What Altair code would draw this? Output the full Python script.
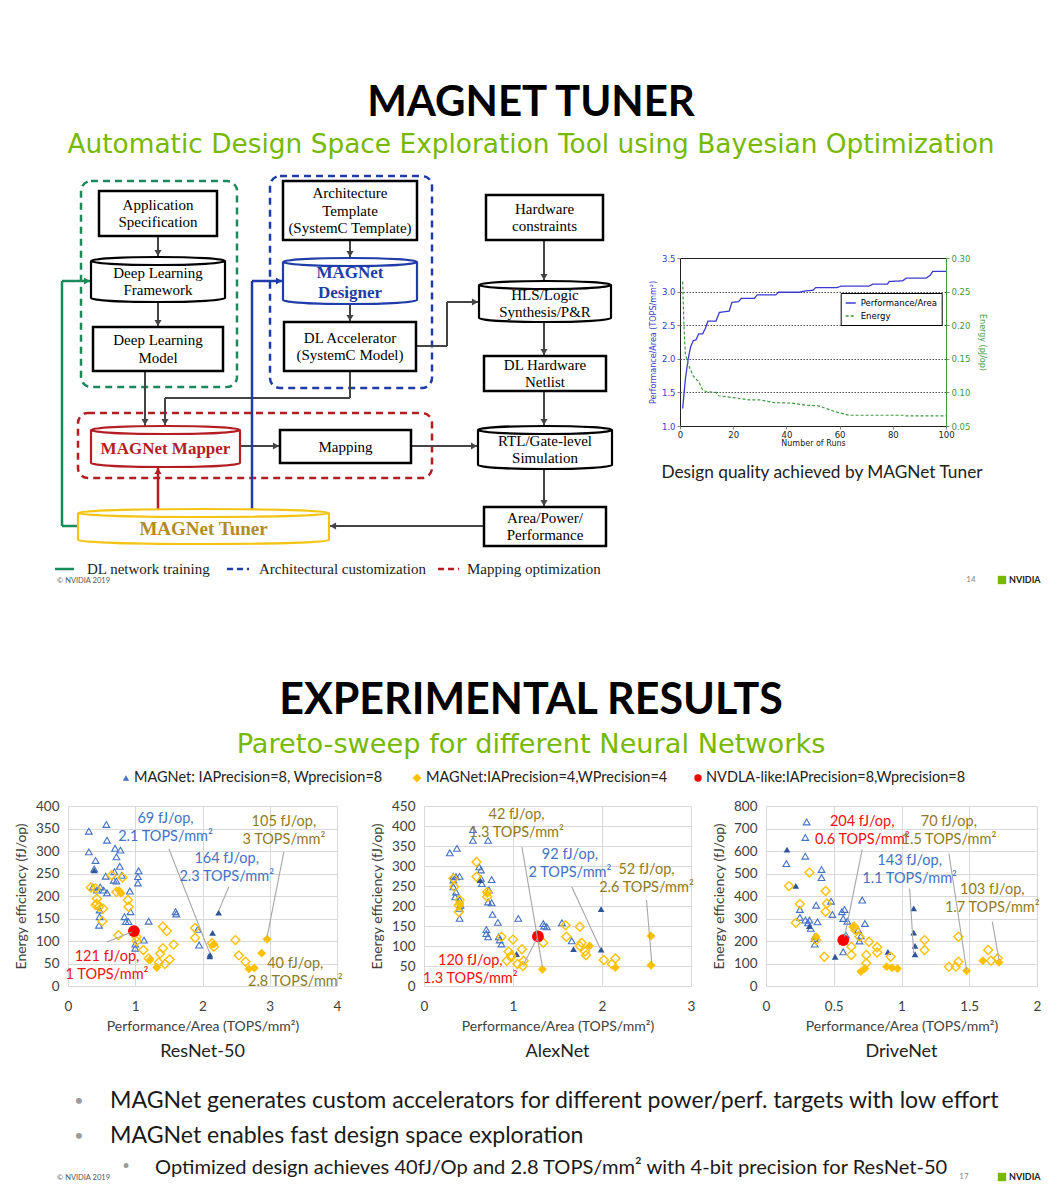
import altair as alt
import pandas as pd

FONT = "Lato"
SERIF = "Liberation Serif"
MPL = "DejaVu Sans"
NV_GREEN = "#76B900"

# ---------------- Slide 1 : MAGNet Tuner convergence ----------------
perf_runs = [1, 2, 3, 4, 5, 6, 7, 8.5, 9.5, 10.5, 13.5, 14.8, 18.5, 19.5, 22, 23, 28, 29, 36, 37,
             45, 47, 50, 51, 59, 60.5, 71, 72.4, 78, 78.6, 83.7, 85, 92.5, 94, 95, 100]
perf_vals = [1.26, 1.69, 1.98, 2.18, 2.27, 2.28, 2.37, 2.37, 2.45, 2.56, 2.56, 2.69, 2.71, 2.84, 2.85,
             2.90, 2.90, 2.95, 2.95, 2.99, 2.99, 3.01, 3.02, 3.06, 3.06, 3.08, 3.08, 3.11, 3.11, 3.15,
             3.16, 3.20, 3.20, 3.24, 3.30, 3.30]
energy_runs = [1, 1.5, 2, 3, 5, 7, 8.5, 10, 13.5, 14.5, 18.5, 26, 30, 35, 42, 47, 52, 55, 58.6, 63.6,
               84, 85, 100]
energy_vals = [0.265, 0.198, 0.158, 0.143, 0.124, 0.116, 0.104, 0.101, 0.100, 0.095, 0.093, 0.089,
               0.089, 0.085, 0.084, 0.081, 0.080, 0.076, 0.071, 0.066, 0.066, 0.065, 0.065]
series_names = ["Performance/Area", "Energy"]

# ---------------- Slide 2 : Pareto sweeps ----------------
resnet_tri_open = [(0.31, 344), (0.57, 359), (0.58, 324), (0.31, 298), (0.41, 279), (0.39, 260), (0.56, 244),
                   (0.70, 306), (0.78, 302), (0.72, 287), (0.69, 254), (0.68, 235), (0.72, 233), (0.77, 266),
                   (0.80, 246), (1.05, 256), (1.04, 243), (1.04, 229), (0.92, 211), (0.37, 220), (0.43, 213),
                   (0.48, 220), (0.53, 213), (0.58, 207), (0.47, 169), (0.47, 154), (0.46, 135), (0.84, 154),
                   (0.86, 143), (0.90, 143), (0.93, 165), (1.20, 144), (1.60, 165), (1.61, 160), (1.13, 102),
                   (1.00, 93), (1.00, 84), (1.93, 126), (1.95, 91)]
resnet_tri_fill = [(0.39, 257), (2.24, 163), (2.15, 118), (2.11, 70), (2.11, 66)]
resnet_dia_open = [(0.34, 219), (0.41, 217), (0.43, 194), (0.43, 183), (0.41, 180), (0.46, 176), (0.52, 172),
                   (0.51, 144), (0.65, 246), (0.81, 241), (0.72, 209), (0.89, 191), (0.90, 176), (0.75, 113),
                   (1.02, 109), (1.02, 100), (1.12, 80), (1.20, 61), (1.41, 132), (1.47, 122), (1.41, 84),
                   (1.37, 72), (1.35, 52), (1.44, 49), (1.51, 59), (1.57, 92), (1.89, 129), (1.89, 107),
                   (2.17, 87), (2.14, 95), (2.49, 102), (2.54, 68), (2.64, 54)]
resnet_dia_fill = [(0.76, 212), (0.79, 206), (1.22, 58), (1.32, 41), (2.17, 93), (2.69, 38), (2.77, 40),
                   (2.88, 73), (2.96, 104)]
resnet_nvdla = [(0.98, 122)]
resnet_notes = [("69 fJ/op,\n2.1 TOPS/mm²", 1.45, 372, "blue"), ("164 fJ/op,\n2.3 TOPS/mm²", 2.36, 283, "blue"),
                ("105 fJ/op,\n3 TOPS/mm²", 3.21, 364, "olive"), ("40 fJ/op,\n2.8 TOPS/mm²", 3.38, 50, "olive"),
                ("121 fJ/op,\n1 TOPS/mm²", 0.58, 65, "red")]
resnet_leaders = [(1.50, 305, 2.11, 72), (2.39, 220, 2.24, 167), (3.21, 298, 2.96, 109), (0.58, 98, 0.95, 120)]

alexnet_tri_open = [(0.29, 333), (0.37, 344), (0.55, 391), (0.55, 364), (0.72, 364), (0.33, 274), (0.36, 273),
                    (0.33, 265), (0.33, 248), (0.36, 235), (0.35, 223), (0.40, 274), (0.40, 215), (0.41, 202),
                    (0.40, 194), (0.40, 169), (0.62, 298), (0.64, 269), (0.65, 256), (0.64, 290), (0.76, 266),
                    (0.73, 240), (0.72, 210), (0.76, 208), (0.77, 179), (0.70, 141), (0.70, 131), (0.72, 123),
                    (0.83, 159), (0.84, 123), (0.85, 115), (0.87, 105), (1.06, 169), (1.34, 156), (1.35, 150),
                    (1.38, 148), (1.55, 158), (1.66, 113)]
alexnet_tri_fill = [(0.63, 265), (1.04, 80), (1.68, 92), (1.99, 192), (1.99, 91)]
alexnet_dia_open = [(0.59, 310), (0.59, 273), (0.33, 269), (0.34, 248), (0.40, 215), (0.39, 185), (0.39, 202),
                    (0.71, 235), (0.71, 223), (0.87, 123), (1.00, 116), (0.95, 86), (0.98, 76), (0.98, 72),
                    (0.93, 63), (1.05, 55), (1.10, 92), (1.12, 63), (1.11, 50), (1.34, 108), (1.59, 152),
                    (1.60, 123), (1.75, 148), (1.77, 108), (1.75, 100), (1.81, 86), (1.82, 77), (2.02, 65),
                    (2.15, 69), (2.11, 55)]
alexnet_dia_fill = [(0.40, 205), (0.71, 231), (1.33, 42), (1.86, 100), (2.15, 46), (2.55, 125), (2.55, 52)]
alexnet_nvdla = [(1.28, 124)]
alexnet_notes = [("42 fJ/op,\n1.3 TOPS/mm²", 1.04, 427, "olive"), ("92 fJ/op,\n2 TOPS/mm²", 1.64, 327, "blue"),
                 ("52 fJ/op,\n2.6 TOPS/mm²", 2.50, 289, "olive"), ("120 fJ/op,\n1.3 TOPS/mm²", 0.52, 63, "red")]
alexnet_leaders = [(1.10, 348, 1.33, 48), (1.66, 248, 1.98, 94), (2.50, 215, 2.56, 57), (1.12, 55, 1.27, 119)]

drivenet_tri_open = [(0.30, 729), (0.29, 660), (0.29, 577), (0.15, 544), (0.41, 518), (0.41, 482), (0.25, 340),
                     (0.25, 305), (0.29, 293), (0.31, 281), (0.32, 293), (0.33, 256), (0.36, 219), (0.36, 186),
                     (0.36, 211), (0.37, 359), (0.38, 285), (0.48, 377), (0.49, 318), (0.56, 330), (0.58, 340),
                     (0.57, 300), (0.60, 288), (0.59, 226), (0.57, 152), (0.71, 382), (0.73, 278), (0.70, 223),
                     (0.69, 200), (0.68, 249)]
drivenet_tri_fill = [(0.155, 606), (0.22, 445), (0.32, 266), (0.51, 130), (0.90, 152), (1.09, 345),
                     (1.09, 237), (1.10, 178), (1.10, 141)]
drivenet_dia_open = [(0.32, 504), (0.17, 444), (0.25, 364), (0.22, 281), (0.44, 422), (0.45, 367), (0.44, 330),
                     (0.37, 204), (0.43, 130), (0.63, 175), (0.63, 138), (0.65, 263), (0.66, 249), (0.69, 219),
                     (0.76, 197), (0.74, 138), (0.74, 101), (0.82, 172), (0.82, 149), (0.92, 130), (1.17, 204),
                     (1.17, 160), (1.35, 86), (1.40, 86), (1.42, 219), (1.42, 108), (1.64, 160), (1.66, 112),
                     (1.71, 123)]
drivenet_dia_fill = [(0.37, 219), (0.64, 263), (0.70, 64), (0.73, 78), (0.89, 86), (0.93, 81), (0.97, 78),
                     (1.48, 68), (1.60, 112), (1.72, 105)]
drivenet_nvdla = [(0.57, 204)]
drivenet_notes = [("204 fJ/op,\n0.6 TOPS/mm²", 0.71, 729, "red"), ("70 fJ/op,\n1.5 TOPS/mm²", 1.35, 729, "olive"),
                  ("143 fJ/op,\n1.1 TOPS/mm²", 1.06, 556, "blue"), ("103 fJ/op,\n1.7 TOPS/mm²", 1.67, 426, "olive")]
drivenet_leaders = [(0.71, 607, 0.58, 219), (1.35, 589, 1.48, 71), (1.06, 433, 1.09, 145), (1.67, 286, 1.72, 115)]

legend_labels = ["MAGNet: IAPrecision=8, Wprecision=8", "MAGNet:IAPrecision=4,WPrecision=4",
                 "NVDLA-like:IAPrecision=8,Wprecision=8"]
bullets = ["MAGNet generates custom accelerators for different power/perf. targets with low effort",
           "MAGNet enables fast design space exploration",
           "Optimized design achieves 40fJ/Op and 2.8 TOPS/mm² with 4-bit precision for ResNet-50"]

# ---------------- Flow chart content (page layout boxes) ----------------
fc_boxes = [(99, 188, 217, 233, "Application\nSpecification"), (93, 324, 223, 368, "Deep Learning\nModel"),
            (283, 178, 417, 237, "Architecture\nTemplate\n(SystemC Template)"),
            (284, 319, 416, 368, "DL Accelerator\n(SystemC Model)"), (486, 192, 603, 237, "Hardware\nconstraints"),
            (484, 353, 606, 388, "DL Hardware\nNetlist"), (280, 427, 411, 460, "Mapping"),
            (484, 504, 606, 543, "Area/Power/\nPerformance")]
C_GREEN, C_BLUE, C_RED, C_GOLD, C_GOLDTXT, C_GRAY = "#1B8A5A", "#1F3CA8", "#B41E23", "#F4C414", "#B38B22", "#444444"
fc_cyl = [(91, 254, 225, 299, "black", "Deep Learning\nFramework", "black", False, 15),
          (283, 255, 417, 301, C_BLUE, "MAGNet\nDesigner", C_BLUE, True, 17),
          (479, 278, 611, 319, "black", "HLS/Logic\nSynthesis/P&R", "black", False, 15),
          (91, 423, 240, 464, C_RED, "MAGNet Mapper", C_RED, True, 17),
          (478, 423, 612, 466, "black", "RTL/Gate-level\nSimulation", "black", False, 15),
          (78, 506, 329, 541, C_GOLD, "MAGNet Tuner", C_GOLDTXT, True, 19)]
fc_groups = [(81, 178, 237, 384, C_GREEN), (270, 173, 432, 385, C_BLUE), (78, 410, 432, 475, C_RED)]
fc_arrows = [([(158, 233), (158, 254)], C_GRAY, 2), ([(158, 299), (158, 324)], C_GRAY, 2),
             ([(350, 237), (350, 255)], C_GRAY, 2), ([(350, 301), (350, 319)], C_GRAY, 2),
             ([(416, 343), (447, 343), (447, 299), (479, 299)], C_GRAY, 2),
             ([(544, 237), (544, 278)], C_GRAY, 2), ([(544, 319), (544, 353)], C_GRAY, 2),
             ([(544, 388), (544, 423)], C_GRAY, 2), ([(544, 466), (544, 504)], C_GRAY, 2),
             ([(145, 368), (145, 423)], C_GRAY, 2), ([(350, 368), (350, 395), (165, 395), (165, 423)], C_GRAY, 2),
             ([(240, 443), (280, 443)], C_GRAY, 2), ([(411, 443), (478, 443)], C_GRAY, 2),
             ([(484, 523), (329, 523)], C_GRAY, 2),
             ([(78, 523), (62, 523), (62, 278), (91, 278)], C_GREEN, 2.5),
             ([(252, 506), (252, 278), (283, 278)], C_BLUE, 2.5),
             ([(158, 506), (158, 464)], C_RED, 2.5)]
fc_legend = [("DL network training", 55, 74, 87, C_GREEN, [1, 0]),
             ("Architectural customization", 227, 249, 259, C_BLUE, [6, 4]),
             ("Mapping optimization", 438, 459, 467, C_RED, [6, 4])]

# ---------------- helpers ----------------
def pix(x0, x1, y0, y1):
    sx = alt.Scale(domain=[x0, x1], range=[0, x1 - x0], nice=False, zero=False)
    sy = alt.Scale(domain=[y0, y1], range=[0, y1 - y0], nice=False, zero=False)
    return alt.X("x:Q", scale=sx, axis=None), alt.Y("y:Q", scale=sy, axis=None)


def txt(rows, X, Y, **kw):
    df = pd.DataFrame(rows, columns=["x", "y", "t"])
    return alt.Chart(df).mark_text(**kw).encode(x=X, y=Y, text="t:N")


def first_line_y(center, text, lh):
    return center - (text.count("\n")) * lh / 2


def spacer(w, h):
    return alt.Chart(pd.DataFrame({"v": [0]})).mark_point(opacity=0).encode(
        x=alt.value(0), y=alt.value(0)).properties(width=w, height=h)


def cyl_path(w, h, cap=4.0):
    a = h / w
    e = cap / (w / 2)
    yt, yb = -a + e, a - e
    return (f"M-1,{yt:.4f}A1,{e:.4f} 0 1,1 1,{yt:.4f}A1,{e:.4f} 0 1,1 -1,{yt:.4f}"
            f"L-1,{yb:.4f}A1,{e:.4f} 0 0,0 1,{yb:.4f}L1,{yt:.4f}")


def logo(X, Y, xnum, y, num):
    sq = alt.Chart(pd.DataFrame({"x": [1002], "y": [y]})).mark_point(
        shape="square", filled=True, color=NV_GREEN, size=70, opacity=1).encode(x=X, y=Y)
    t1 = txt([(1009, y, "NVIDIA")], X, Y, font=FONT, fontSize=9, fontWeight="bold", color="#222",
             align="left", baseline="middle")
    t2 = txt([(xnum, y, num)], X, Y, font=FONT, fontSize=8, color="#888", align="center", baseline="middle")
    t3 = txt([(57, y + 1, "© NVIDIA 2019")], X, Y, font=FONT, fontSize=7.5, color="#555", align="left",
             baseline="middle")
    return [sq, t1, t2, t3]


# ---------------- Row 1 : slide 1 (title + flow chart + tuner plot) ----------------
X1, Y1 = pix(8, 680, 8, 600)
seg_rows, head_rows = [], []
for pts, col, wd in fc_arrows:
    for (xa, ya), (xb, yb) in zip(pts[:-1], pts[1:]):
        seg_rows.append(dict(x=xa, y=ya, x2=xb, y2=yb, c=col, w=wd))
    (xa, ya), (xb, yb) = pts[-2], pts[-1]
    if xb > xa:
        head_rows.append(dict(x=xb - 4, y=yb, s="triangle-right", c=col))
    elif xb < xa:
        head_rows.append(dict(x=xb + 4, y=yb, s="triangle-left", c=col))
    elif yb > ya:
        head_rows.append(dict(x=xb, y=yb - 4, s="triangle-down", c=col))
    else:
        head_rows.append(dict(x=xb, y=yb + 4, s="triangle-up", c=col))

groups_df = pd.DataFrame([dict(x=a, y=b, x2=c, y2=d, c=col) for a, b, c, d, col in fc_groups])
boxes_df = pd.DataFrame([dict(x=a, y=b, x2=c, y2=d) for a, b, c, d, _ in fc_boxes])
cyl_df = pd.DataFrame([dict(x=(a + c) / 2, y=(b + d) / 2, path=cyl_path(c - a, d - b), sz=(c - a) ** 2, c=col)
                       for a, b, c, d, col, *_ in fc_cyl])

LH = 17.5
flow_layers = [
    alt.Chart(groups_df).mark_rect(fill="white", fillOpacity=0, strokeWidth=2.5, strokeDash=[7, 5],
                                   cornerRadius=10).encode(
        x=X1, y=Y1, x2=alt.X2("x2"), y2=alt.Y2("y2"), stroke=alt.Stroke("c:N", scale=None)),
    alt.Chart(pd.DataFrame(seg_rows)).mark_rule().encode(
        x=X1, y=Y1, x2=alt.X2("x2"), y2=alt.Y2("y2"), color=alt.Color("c:N", scale=None),
        strokeWidth=alt.StrokeWidth("w:Q", scale=None)),
    alt.Chart(boxes_df).mark_rect(fill="white", stroke="black", strokeWidth=2.5).encode(
        x=X1, y=Y1, x2=alt.X2("x2"), y2=alt.Y2("y2")),
    alt.Chart(cyl_df).mark_point(fill="white", fillOpacity=1, strokeWidth=2.2, opacity=1).encode(
        x=X1, y=Y1, shape=alt.Shape("path:N", scale=None), size=alt.Size("sz:Q", scale=None),
        stroke=alt.Stroke("c:N", scale=None)),
    txt([((a + c) / 2, first_line_y((b + d) / 2, t, LH), t) for a, b, c, d, t in fc_boxes], X1, Y1,
        font=SERIF, fontSize=15, lineBreak="\n", lineHeight=LH, align="center", baseline="middle",
        color="black"),
]
for a, b, c, d, col, t, tcol, bold, fs in fc_cyl:
    lh = 20 if bold else LH
    flow_layers.append(txt([((a + c) / 2, first_line_y((b + d) / 2 + 2, t, lh), t)], X1, Y1, font=SERIF,
                           fontSize=fs, lineBreak="\n", lineHeight=lh, align="center", baseline="middle",
                           color=tcol, fontWeight="bold" if bold else "normal"))
flow_layers.append(alt.Chart(pd.DataFrame(head_rows)).mark_point(filled=True, size=50, opacity=1).encode(
    x=X1, y=Y1, shape=alt.Shape("s:N", scale=None), color=alt.Color("c:N", scale=None)))
for label, xa, xb, xt, col, dash in fc_legend:
    flow_layers.append(alt.Chart(pd.DataFrame([dict(x=xa, y=566, x2=xb, y2=566)])).mark_rule(
        color=col, strokeWidth=2.5, strokeDash=dash).encode(x=X1, y=Y1, x2=alt.X2("x2"), y2=alt.Y2("y2")))
    flow_layers.append(txt([(xt, 566, label)], X1, Y1, font=SERIF, fontSize=15, align="left",
                           baseline="middle", color="#222"))

flow_layers += [
    txt([(531, 100, "MAGNET TUNER")], X1, Y1, font=FONT, fontSize=42, fontWeight="bold", color="black",
        align="center", baseline="middle"),
    txt([(531, 142, "Automatic Design Space Exploration Tool using Bayesian Optimization")], X1, Y1,
        font=MPL, fontSize=26.4, color=NV_GREEN, align="center", baseline="middle"),
    txt([(822, 470, "Design quality achieved by MAGNet Tuner")], X1, Y1, font=FONT, fontSize=17.3,
        color="#222", align="center", baseline="middle"),
]
flow_layers += logo(X1, Y1, 971, 577, "14")
slide1_left = alt.layer(*flow_layers).properties(width=672, height=592)

# line chart (legend is placed relative to the page origin)
P_BLUE, E_GREEN = "#3a3ad0", "#3d9a3d"
perf_df = pd.DataFrame({"run": perf_runs, "val": perf_vals, "series": series_names[0]})
en_df = pd.DataFrame({"run": energy_runs, "val": energy_vals, "series": series_names[1]})
leg = alt.Legend(orient="none", legendX=832.7, legendY=282, title=None, symbolType="stroke",
                 labelFont=MPL, labelFontSize=8.5, strokeColor="black", fillColor="white", padding=4,
                 symbolStrokeWidth=1.3, rowPadding=2, cornerRadius=0)
col_enc = alt.Color("series:N", scale=alt.Scale(domain=series_names, range=[P_BLUE, E_GREEN]), legend=leg)
dash_enc = alt.StrokeDash("series:N", scale=alt.Scale(domain=series_names, range=[[1, 0], [3, 2]]), legend=leg)
xrun = alt.X("run:Q", scale=alt.Scale(domain=[0, 100], nice=False),
             axis=alt.Axis(values=[0, 20, 40, 60, 80, 100], title="Number of Runs", labelFont=MPL,
                           labelFontSize=8.5, titleFont=MPL, titleFontSize=8, titleFontWeight="normal",
                           titlePadding=1, labelPadding=1, tickSize=3, domain=False, grid=False,
                           labelFlush=False, labelColor="#222", titleColor="#222"))
perf_line = alt.Chart(perf_df).mark_line(strokeWidth=1.3).encode(
    x=xrun,
    y=alt.Y("val:Q", scale=alt.Scale(domain=[1.0, 3.5], nice=False, zero=False),
            axis=alt.Axis(orient="left", values=[1.0, 1.5, 2.0, 2.5, 3.0, 3.5], format=".1f",
                          title="Performance/Area (TOPS/mm²)", labelColor=P_BLUE, titleColor=P_BLUE,
                          labelFont=MPL, titleFont=MPL, labelFontSize=8.5, titleFontSize=8,
                          titleFontWeight="normal", grid=True, gridColor="#222", gridDash=[1.5, 1.5],
                          gridWidth=0.8, domain=False, tickSize=3, labelPadding=2, titlePadding=4)),
    color=col_enc, strokeDash=dash_enc)
en_line = alt.Chart(en_df).mark_line(strokeWidth=1.2).encode(
    x=xrun,
    y=alt.Y("val:Q", scale=alt.Scale(domain=[0.05, 0.30], nice=False, zero=False),
            axis=alt.Axis(orient="right", values=[0.05, 0.10, 0.15, 0.20, 0.25, 0.30], format=".2f",
                          title="Energy (pJ/op)", labelColor=E_GREEN, titleColor=E_GREEN,
                          labelFont=MPL, titleFont=MPL, labelFontSize=8.5, titleFontSize=8,
                          titleFontWeight="normal", grid=False, domain=True, domainColor=E_GREEN,
                          tickSize=3, labelPadding=2, titlePadding=8)),
    color=col_enc, strokeDash=dash_enc)
line_chart = alt.layer(perf_line, en_line).resolve_scale(y="independent").properties(
    width=266, height=168, view=alt.ViewBackground(stroke="#222", strokeWidth=1))
slide1_right = alt.vconcat(spacer(266, 247), line_chart, spacing=0, bounds="flush")
row1 = alt.hconcat(slide1_left, slide1_right, spacing=0, bounds="flush")

# ---------------- Row 2 : slide 2 header + legend ----------------
X2p, Y2p = pix(8, 1054, 600, 796)
TRI, TRI_D, GOLD, RED = "#4472C4", "#2F5597", "#FFC000", "#FF0000"
hdr_layers = [
    txt([(531, 698, "EXPERIMENTAL RESULTS")], X2p, Y2p, font=FONT, fontSize=43, fontWeight="bold",
        color="black", align="center", baseline="middle"),
    txt([(531, 742, "Pareto-sweep for different Neural Networks")], X2p, Y2p, font=MPL, fontSize=27.2,
        color=NV_GREEN, align="center", baseline="middle"),
    alt.Chart(pd.DataFrame({"x": [126], "y": [775]})).mark_point(shape="triangle-up", filled=True, color=TRI,
                                                               size=40, opacity=1).encode(x=X2p, y=Y2p),
    alt.Chart(pd.DataFrame({"x": [417], "y": [775]})).mark_point(shape="diamond", filled=True, color=GOLD,
                                                               size=80, opacity=1).encode(x=X2p, y=Y2p),
    alt.Chart(pd.DataFrame({"x": [698], "y": [775]})).mark_point(shape="circle", filled=True, color=RED,
                                                               size=55, opacity=1).encode(x=X2p, y=Y2p),
    txt([(134, 775, legend_labels[0]), (426, 775, legend_labels[1]), (706, 775, legend_labels[2])],
        X2p, Y2p, font=FONT, fontSize=14.5, color="#222", align="left", baseline="middle"),
]
header2 = alt.layer(*hdr_layers).properties(width=1046, height=196)

# ---------------- Row 3 : scatter plots (+ bullets/footer overflowing below) ----------------
GRID, AXT, LEAD = "#D9D9D9", "#404040", "#A6A6A6"
NOTE_COL = {"blue": "#4472C4", "olive": "#8F7B26", "red": "#EE1111"}


def scatter(name, tri_o, tri_f, dia_o, dia_f, nvd, notes, leads, xdom, xvals, ydom, yvals, w, h):
    X = alt.X("x:Q", scale=alt.Scale(domain=xdom, nice=False, zero=False),
              axis=alt.Axis(values=xvals, format="~g", title="Performance/Area (TOPS/mm²)", grid=True,
                            gridColor=GRID, domain=False, ticks=False, tickSize=0, labelFont=FONT,
                            labelFontSize=13.5, labelColor=AXT, labelPadding=13, labelFlush=False,
                            titleFont=FONT, titleFontSize=14, titleFontWeight="normal", titleColor=AXT,
                            titlePadding=7))
    Y = alt.Y("y:Q", scale=alt.Scale(domain=ydom, nice=False, zero=False),
              axis=alt.Axis(values=yvals, title="Energy efficiency (fJ/op)", grid=True, gridColor=GRID,
                            domain=False, ticks=False, tickSize=0, labelFont=FONT, labelFontSize=13.5,
                            labelColor=AXT, labelPadding=9, labelFlush=False, titleFont=FONT, titleFontSize=14,
                            titleFontWeight="normal", titleColor=AXT, titlePadding=7))

    def d(p):
        return pd.DataFrame(p, columns=["x", "y"])

    note_df = pd.DataFrame([dict(t=t, x=x, y=y, c=NOTE_COL[c]) for t, x, y, c in notes])
    layers = [
        alt.Chart(d(tri_o)).mark_point(shape="triangle-up", filled=False, color=TRI, size=45, strokeWidth=1.1,
                                       opacity=1).encode(x=X, y=Y),
        alt.Chart(d(tri_f)).mark_point(shape="triangle-up", filled=True, color=TRI_D, size=45,
                                       opacity=1).encode(x=X, y=Y),
        alt.Chart(d(dia_o)).mark_point(shape="diamond", filled=False, color=GOLD, size=80, strokeWidth=1.4,
                                       opacity=1).encode(x=X, y=Y),
        alt.Chart(d(dia_f)).mark_point(shape="diamond", filled=True, color=GOLD, size=80,
                                       opacity=1).encode(x=X, y=Y),
        alt.Chart(d(nvd)).mark_point(shape="circle", filled=True, color=RED, size=140,
                                     opacity=1).encode(x=X, y=Y),
        alt.Chart(pd.DataFrame(leads, columns=["x", "y", "x2", "y2"])).mark_rule(color=LEAD, strokeWidth=1.1).encode(
            x=X, y=Y, x2=alt.X2("x2"), y2=alt.Y2("y2")),
        alt.Chart(note_df).mark_text(font=FONT, fontSize=14.5, lineBreak="\n", lineHeight=18, align="center",
                                     baseline="middle").encode(x=X, y=Y, text="t:N",
                                                               color=alt.Color("c:N", scale=None)),
    ]
    return alt.layer(*layers).properties(
        width=w, height=h,
        title=alt.TitleParams(name, orient="bottom", fontSize=18, font=FONT, fontWeight="normal",
                              color="#222", offset=9))


PH = 180
resnet = scatter("ResNet-50", resnet_tri_open, resnet_tri_fill, resnet_dia_open, resnet_dia_fill, resnet_nvdla,
                 resnet_notes, resnet_leaders, [0, 4], [0, 1, 2, 3, 4], [0, 400],
                 list(range(0, 401, 50)), 269, PH)
alexnet = scatter("AlexNet", alexnet_tri_open, alexnet_tri_fill, alexnet_dia_open, alexnet_dia_fill,
                  alexnet_nvdla, alexnet_notes, alexnet_leaders, [0, 3], [0, 1, 2, 3], [0, 450],
                  list(range(0, 451, 50)), 267, PH)
drivenet = scatter("DriveNet", drivenet_tri_open, drivenet_tri_fill, drivenet_dia_open, drivenet_dia_fill,
                   drivenet_nvdla, drivenet_notes, drivenet_leaders, [0, 2], [0, 0.5, 1, 1.5, 2], [0, 800],
                   list(range(0, 801, 100)), 271, PH)

# bullets + footer: drawn from the first (narrow) cell of the last row, in page coordinates
X4, Y4 = pix(8, 68, 806, 986)
foot_layers = [
    txt([(79, 1101, "•"), (79, 1136, "•")], X4, Y4, font=FONT, fontSize=16, color="#9a9a9a", align="center",
        baseline="middle"),
    txt([(126, 1166, "•")], X4, Y4, font=FONT, fontSize=13, color="#9a9a9a", align="center", baseline="middle"),
    txt([(110, 1101, bullets[0]), (110, 1136, bullets[1])], X4, Y4, font=FONT, fontSize=23.1, color="#1a1a1a",
        align="left", baseline="middle"),
    txt([(155, 1168, bullets[2])], X4, Y4, font=FONT, fontSize=20.1, color="#1a1a1a", align="left",
        baseline="middle"),
]
foot_layers += logo(X4, Y4, 964, 1177, "17")
footer_cell = alt.layer(*foot_layers).properties(width=60, height=PH)

row3 = alt.hconcat(footer_cell, resnet, spacer(87, PH), alexnet, spacer(75, PH), drivenet,
                   spacing=0, bounds="flush")

page = alt.vconcat(row1, header2, row3, spacing=0).properties(
    padding=0, background="white").configure_view(stroke=None)

page.save("out.html", embed_options={"renderer": "svg", "actions": False})
